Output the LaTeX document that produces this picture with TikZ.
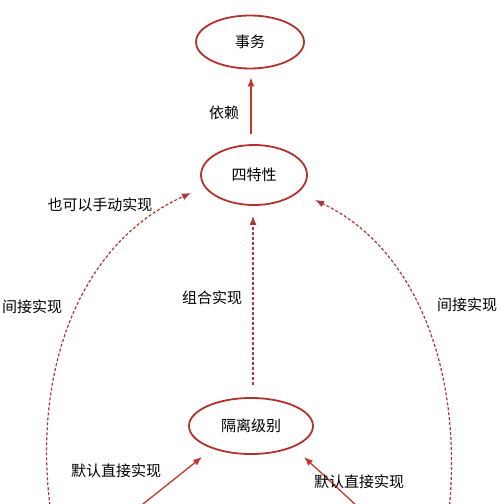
\documentclass[tikz,border=0pt]{standalone}
\usepackage{fontspec}
\setmainfont{Noto Sans CJK SC}
\usetikzlibrary{shapes.geometric,arrows.meta}
\definecolor{ringred}{HTML}{B3322B}
\definecolor{arrred}{HTML}{C8372D}
\definecolor{dashred}{HTML}{A8383A}
\tikzset{
  ring/.style={ellipse, draw=ringred, line width=1.8pt, inner sep=0pt, font=\fontsize{15}{17}\selectfont},
  solidarr/.style={-{Latex[length=9pt,width=7pt]}, draw=arrred, line width=1.3pt},
  dasharr/.style={-{Latex[length=9pt,width=7pt]}, draw=dashred, line width=1.2pt, dash pattern=on 3pt off 2pt},
  lbl/.style={font=\fontsize{15}{17}\selectfont, inner sep=0pt}
}
\begin{document}
\begin{tikzpicture}[x=1pt, y=-1pt]
    \clip (0,0) rectangle (502,504);
    \fill[white] (0,0) rectangle (502,504);
    % ellipses
    \node[ring, minimum width=108pt, minimum height=53pt] (trans) at (250,42) {事务};
    \node[ring, minimum width=106pt, minimum height=60pt] (acid) at (254,175) {四特性};
    \node[ring, minimum width=124pt, minimum height=56pt] (iso) at (251,426) {隔离级别};
    % free ends below the frame
    \coordinate (lcurve) at (52,520);
    \coordinate (rcurve) at (448,520);
    \coordinate (ldirect) at (123,520);
    \coordinate (rdirect) at (372,520);
    \coordinate (lhead) at (191,193);
    \coordinate (rhead) at (315,200);
    % connectors
    \draw[solidarr, shorten <=10pt, shorten >=8pt] ([xshift=-3pt]acid.north) -- ([xshift=1pt]trans.south);
    \draw[dasharr, shorten <=12pt, shorten >=10pt] ([xshift=2pt]iso.north) -- ([xshift=-1pt]acid.south);
    \draw[dasharr] (lcurve) .. controls (30,380) and (75,245) .. (lhead);
    \draw[dasharr] (rcurve) .. controls (465,380) and (420,250) .. (rhead);
    \draw[solidarr] (ldirect) -- (202,457);
    \draw[solidarr] (rdirect) -- (304,457);
    % labels
    \node[lbl] (dep) at (224,113) {依赖};
    \node[lbl] (manual) at (100,205) {也可以手动实现};
    \node[lbl] (indl) at (32,307) {间接实现};
    \node[lbl] (comb) at (212,298) {组合实现};
    \node[lbl] (indr) at (467,305) {间接实现};
    \node[lbl] (defl) at (116,471) {默认直接实现};
    \node[lbl] (defr) at (359,482) {默认直接实现};
\end{tikzpicture}
\end{document}
